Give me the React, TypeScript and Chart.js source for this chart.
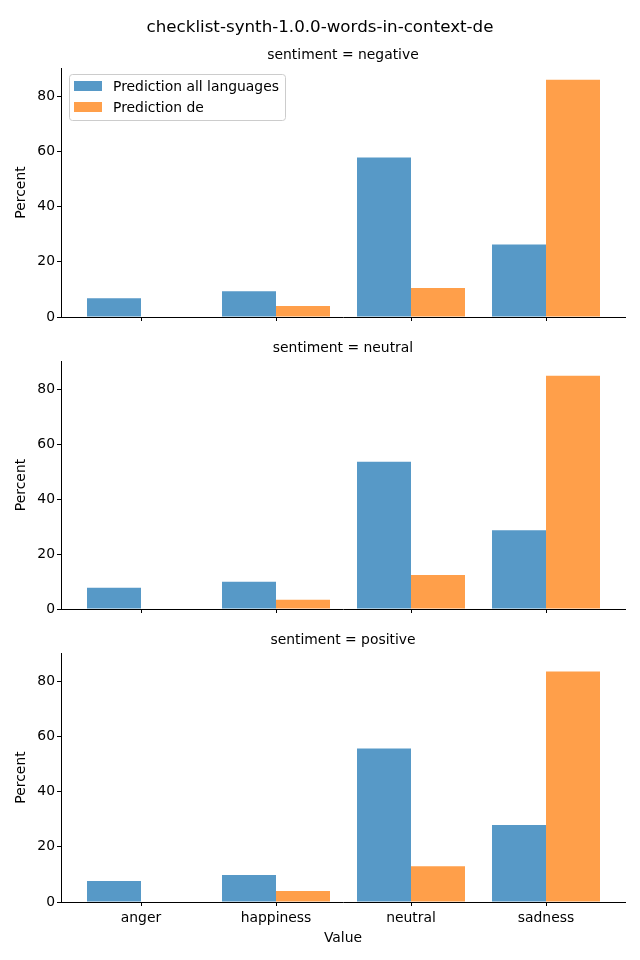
import React, { useEffect, useRef } from 'react';
import { Chart, registerables } from 'chart.js';

Chart.register(...registerables);

const mainTitle = 'checklist-synth-1.0.0-words-in-context-de';
const categories = ['anger', 'happiness', 'neutral', 'sadness'];
const seriesNames = ['Prediction all languages', 'Prediction de'];
const panelTitles = ['sentiment = negative', 'sentiment = neutral', 'sentiment = positive'];
const allLangNegative = [6.8, 9.3, 57.8, 26.3];
const deNegative = [0, 4.0, 10.5, 86.0];
const allLangNeutral = [7.7, 9.9, 53.6, 28.7];
const deNeutral = [0, 3.4, 12.4, 84.9];
const allLangPositive = [7.6, 9.8, 55.7, 27.9];
const dePositive = [0, 4.0, 13.0, 83.6];
const yTicks = [0, 20, 40, 60, 80];
const yAxisTitle = 'Percent';
const xAxisTitle = 'Value';

const BLUE = 'rgb(87,153,199)';
const ORANGE = 'rgb(255,159,74)';
const FONT_FAMILY = '"DejaVu Sans", sans-serif';
const TICK_PX = 13.9;
const X_MIN = -80 / 135;
const X_MAX = X_MIN + 564 / 135;

type PanelSpec = {
  title: string;
  a: number[];
  b: number[];
  top: number;
  height: number;
  padTop: number;
  xHeight: number;
  labels: boolean;
  legend: boolean;
  main: boolean;
};

const panels: PanelSpec[] = [
  { title: panelTitles[0], a: allLangNegative, b: deNegative, top: 0, height: 340, padTop: 68, xHeight: 23, labels: false, legend: true, main: true },
  { title: panelTitles[1], a: allLangNeutral, b: deNeutral, top: 340, height: 290, padTop: 21, xHeight: 21, labels: false, legend: false, main: false },
  { title: panelTitles[2], a: allLangPositive, b: dePositive, top: 630, height: 330, padTop: 23, xHeight: 58, labels: true, legend: false, main: false },
];

function Panel({ spec }: { spec: PanelSpec }) {
  const ref = useRef<HTMLCanvasElement | null>(null);
  useEffect(() => {
    if (!ref.current) return;
    const textPlugin = {
      id: 'panelText',
      afterDraw(chart: any) {
        const ctx = chart.ctx as CanvasRenderingContext2D;
        const ca = chart.chartArea;
        const cx = (ca.left + ca.right) / 2;
        ctx.save();
        ctx.fillStyle = '#000';
        ctx.textAlign = 'center';
        ctx.textBaseline = 'middle';
        if (spec.main) {
          ctx.font = `16.7px ${FONT_FAMILY}`;
          ctx.fillText(mainTitle, 320, 28);
        }
        ctx.font = `${TICK_PX}px ${FONT_FAMILY}`;
        ctx.fillText(spec.title, cx, ca.top - 13);
        // y axis title
        ctx.save();
        ctx.translate(21, (ca.top + ca.bottom) / 2);
        ctx.rotate(-Math.PI / 2);
        ctx.fillText(yAxisTitle, 0, 0);
        ctx.restore();
        if (spec.labels) {
          ctx.fillText(xAxisTitle, cx, ca.bottom + 36);
        }
        if (spec.legend) {
          const x = 69.5, y = 74.5, w = 216, h = 46, r = 3;
          ctx.beginPath();
          ctx.moveTo(x + r, y);
          ctx.lineTo(x + w - r, y);
          ctx.arcTo(x + w, y, x + w, y + r, r);
          ctx.lineTo(x + w, y + h - r);
          ctx.arcTo(x + w, y + h, x + w - r, y + h, r);
          ctx.lineTo(x + r, y + h);
          ctx.arcTo(x, y + h, x, y + h - r, r);
          ctx.lineTo(x, y + r);
          ctx.arcTo(x, y, x + r, y, r);
          ctx.closePath();
          ctx.fillStyle = 'rgba(255,255,255,0.8)';
          ctx.fill();
          ctx.strokeStyle = '#cccccc';
          ctx.lineWidth = 1;
          ctx.stroke();
          ctx.fillStyle = BLUE;
          ctx.fillRect(74, 81, 28, 10);
          ctx.fillStyle = ORANGE;
          ctx.fillRect(74, 102, 28, 10);
          ctx.fillStyle = '#000';
          ctx.textAlign = 'left';
          ctx.fillText(seriesNames[0], 113, 87);
          ctx.fillText(seriesNames[1], 113, 108);
        }
        ctx.restore();
      },
    };
    const font = { family: FONT_FAMILY, size: TICK_PX };
    const chart = new Chart(ref.current, {
      type: 'bar',
      data: {
        datasets: [
          {
            label: seriesNames[0],
            data: spec.a.map((v, i) => ({ x: i, y: v })),
            backgroundColor: BLUE,
            borderWidth: 0,
            inflateAmount: 0,
            categoryPercentage: 0.8,
            barPercentage: 1,
          },
          {
            label: seriesNames[1],
            data: spec.b.map((v, i) => ({ x: i, y: v })),
            backgroundColor: ORANGE,
            borderWidth: 0,
            inflateAmount: 0,
            categoryPercentage: 0.8,
            barPercentage: 1,
          },
        ],
      },
      options: {
        animation: false,
        responsive: false,
        maintainAspectRatio: false,
        layout: { padding: { top: spec.padTop, right: 15, left: 0, bottom: 0 } },
        plugins: {
          legend: { display: false },
          tooltip: { enabled: false },
          title: { display: false },
        },
        scales: {
          x: {
            type: 'linear',
            offset: false,
            min: X_MIN,
            max: X_MAX,
            afterBuildTicks: (s: any) => {
              s.ticks = categories.map((_, i) => ({ value: i }));
            },
            afterFit: (s: any) => {
              s.height = spec.xHeight;
            },
            grid: { display: true, offset: false, drawOnChartArea: false, drawTicks: true, tickLength: 4, color: '#000', lineWidth: 1 },
            border: { display: true, color: '#000', width: 1 },
            ticks: {
              callback: (v: any) => (spec.labels ? categories[Math.round(Number(v))] : ''),
              font,
              color: '#000',
              padding: 4,
              maxRotation: 0,
              autoSkip: false,
            },
          },
          y: {
            min: 0,
            max: 90.3,
            afterBuildTicks: (s: any) => {
              s.ticks = yTicks.map((v) => ({ value: v }));
            },
            afterFit: (s: any) => {
              s.width = 61;
            },
            grid: { display: true, drawOnChartArea: false, drawTicks: true, tickLength: 4, color: '#000', lineWidth: 1 },
            border: { display: true, color: '#000', width: 1 },
            ticks: { font, color: '#000', padding: 2 },
          },
        },
      } as any,
      plugins: [textPlugin],
    });
    return () => chart.destroy();
  }, [spec]);
  return (
    <canvas
      ref={ref}
      width={640}
      height={spec.height}
      style={{ position: 'absolute', left: 0, top: spec.top, width: 640, height: spec.height }}
    />
  );
}

export default function App() {
  return (
    <div style={{ position: 'absolute', left: 0, top: 0, width: 640, height: 960, background: '#fff' }}>
      {panels.map((p, i) => (
        <Panel key={i} spec={p} />
      ))}
    </div>
  );
}
